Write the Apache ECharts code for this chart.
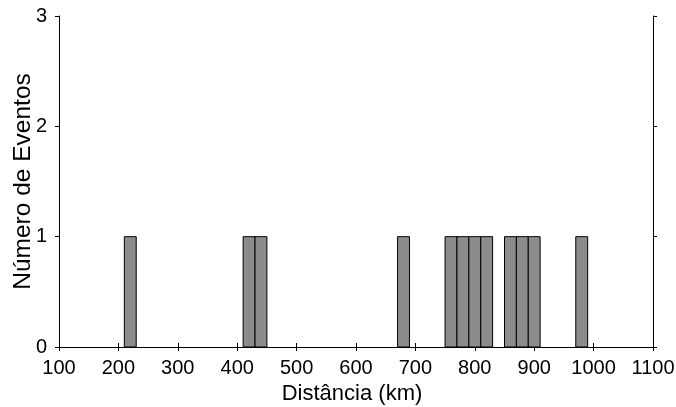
<!DOCTYPE html>
<html>
<head>
<meta charset="utf-8">
<script src="https://cdn.jsdelivr.net/npm/echarts@6/dist/echarts.min.js"></script>
<style>html,body{margin:0;padding:0;background:#fff}#c{width:676px;height:407px}</style>
</head>
<body>
<div id="c"></div>
<script>
// Histogram bins (km) and counts
const binLeft  = [210, 410, 430, 670, 750, 770, 790, 810, 850, 870, 890, 970];
const binRight = [230, 430, 450, 690, 770, 790, 810, 830, 870, 890, 910, 990];
const counts   = [1, 1, 1, 1, 1, 1, 1, 1, 1, 1, 1, 1];
const xTicks = [100, 200, 300, 400, 500, 600, 700, 800, 900, 1000, 1100];
const yTicks = [0, 1, 2, 3];
const xTitle = 'Distância (km)';
const yTitle = 'Número de Eventos';

const data = binLeft.map((l, i) => [l, binRight[i], counts[i]]);
const font = '"Liberation Sans", Arial, sans-serif';
const chart = echarts.init(document.getElementById('c'));
const axisCommon = {
  axisLine: {show: true, lineStyle: {color: '#000', width: 1}},
  axisTick: {show: true, inside: false, length: 4, lineStyle: {color: '#000'}},
  splitLine: {show: false}
};
chart.setOption({
  animation: false,
  backgroundColor: '#fff',
  grid: {left: 59, right: 23, top: 16, bottom: 60, containLabel: false, outerBoundsMode: 'none'},
  xAxis: [
    Object.assign({
      type: 'value', min: xTicks[0], max: xTicks[xTicks.length - 1], interval: 100,
      position: 'bottom',
      name: xTitle, nameLocation: 'middle', nameGap: 30,
      nameTextStyle: {fontFamily: font, fontSize: 22, color: '#000', padding: [0, 8, 0, 0]},
      axisLabel: {fontFamily: font, fontSize: 20, color: '#000', margin: 11,
        formatter: v => String(v), showMinLabel: true, showMaxLabel: true, hideOverlap: false}
    }, axisCommon),
    Object.assign({
      type: 'value', min: xTicks[0], max: xTicks[xTicks.length - 1], interval: 100,
      position: 'top', axisLabel: {show: false}
    }, axisCommon)
  ],
  yAxis: [
    Object.assign({
      type: 'value', min: yTicks[0], max: yTicks[yTicks.length - 1], interval: 1,
      position: 'left',
      name: yTitle, nameLocation: 'middle', nameGap: 23, nameMoveOverlap: false,
      nameTextStyle: {fontFamily: font, fontSize: 24.5, color: '#000'},
      axisLabel: {fontFamily: font, fontSize: 20, color: '#000', margin: 12}
    }, axisCommon),
    Object.assign({
      type: 'value', min: yTicks[0], max: yTicks[yTicks.length - 1], interval: 1,
      position: 'right', axisLabel: {show: false}
    }, axisCommon)
  ],
  series: [{
    type: 'custom',
    xAxisIndex: 0, yAxisIndex: 0,
    data: data,
    renderItem: function (params, api) {
      const p0 = api.coord([api.value(0), 0]);
      const p1 = api.coord([api.value(1), api.value(2)]);
      return {
        type: 'rect',
        shape: {x: p0[0], y: p1[1], width: p1[0] - p0[0], height: p0[1] - p1[1]},
        style: {fill: '#8c8c8c', stroke: '#000', lineWidth: 1}
      };
    }
  }]
});
</script>
</body>
</html>
